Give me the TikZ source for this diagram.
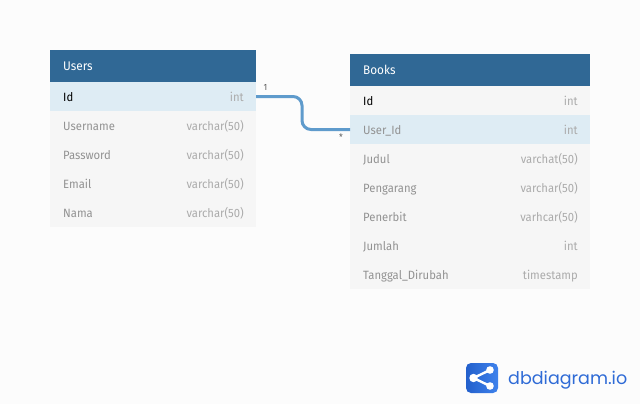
\documentclass[tikz,border=0pt]{standalone}
\usepackage{fontspec}
\setmainfont[FakeStretch=0.94]{Fira Sans}
\newfontfamily\logofont{Poppins}
\definecolor{hdr}{HTML}{306895}
\definecolor{rowbg}{HTML}{F6F6F6}
\definecolor{hl}{HTML}{DEECF4}
\definecolor{pagebg}{HTML}{FCFCFC}
\definecolor{link}{HTML}{5F9BCC}
\definecolor{fieldtxt}{HTML}{929292}
\definecolor{typetxt}{HTML}{ABABAB}
\definecolor{logoa}{HTML}{2360CC}
\definecolor{logob}{HTML}{3F82EC}
\definecolor{logotxt}{HTML}{2F6BD6}
\tikzset{
  x=1pt,y=-1pt,
  box/.style={anchor=north west,inner sep=0pt,outer sep=0pt,minimum height=#1},
  rowbox/.style={box=29pt,fill=rowbg},
  hlbox/.style={box=29pt,fill=hl},
  headbox/.style={box=32pt,fill=hdr},
  title/.style={anchor=base west,inner sep=0pt,text=white,font=\fontsize{12.5}{12}\selectfont},
  fname/.style={anchor=base west,inner sep=0pt,text=fieldtxt,font=\fontsize{12}{12}\selectfont},
  pk/.style={anchor=base west,inner sep=0pt,text=black,font=\fontsize{12}{12}\selectfont},
  ftype/.style={anchor=base east,inner sep=0pt,text=typetxt,font=\fontsize{12}{12}\selectfont},
  mark label/.style={inner sep=0pt,text=black!65,font=\fontsize{9}{9}\selectfont},
  rel/.style={draw=link,line width=3pt,rounded corners=9pt},
}
\newcommand{\tablerow}[7]{%
  % name, x, y, width, style, left text (style), right text
  \node[#5,minimum width=#4pt] (#1) at (#2,#3) {};
  \node[#6] (#1f) at (#2+13,#3+19) {#7};
}
\begin{document}
\begin{tikzpicture}
\useasboundingbox (0,0) rectangle (640,404);
\fill[pagebg] (0,0) rectangle (640,404);

% Users
\node[headbox,minimum width=206pt] (uh) at (50,50) {};
\node[title] (uht) at (63,70.5) {Users};
\tablerow{u1}{50}{82}{206}{hlbox}{pk}{Id}
\node[ftype] (u1t) at (244,101) {int};
\tablerow{u2}{50}{111}{206}{rowbox}{fname}{Username}
\node[ftype] (u2t) at (244,130) {varchar(50)};
\tablerow{u3}{50}{140}{206}{rowbox}{fname}{Password}
\node[ftype] (u3t) at (244,159) {varchar(50)};
\tablerow{u4}{50}{169}{206}{rowbox}{fname}{Email}
\node[ftype] (u4t) at (244,188) {varchar(50)};
\tablerow{u5}{50}{198}{206}{rowbox}{fname}{Nama}
\node[ftype] (u5t) at (244,217) {varchar(50)};

% Books
\node[headbox,minimum width=240pt] (bh) at (350,54) {};
\node[title] (bht) at (363,74.5) {Books};
\tablerow{b1}{350}{86}{240}{rowbox}{pk}{Id}
\node[ftype] (b1t) at (578,105) {int};
\tablerow{b2}{350}{115}{240}{hlbox}{fname}{User\_Id}
\node[ftype] (b2t) at (578,134) {int};
\tablerow{b3}{350}{144}{240}{rowbox}{fname}{Judul}
\node[ftype] (b3t) at (578,163) {varchat(50)};
\tablerow{b4}{350}{173}{240}{rowbox}{fname}{Pengarang}
\node[ftype] (b4t) at (578,192) {varchar(50)};
\tablerow{b5}{350}{202}{240}{rowbox}{fname}{Penerbit}
\node[ftype] (b5t) at (578,221) {varhcar(50)};
\tablerow{b6}{350}{231}{240}{rowbox}{fname}{Jumlah}
\node[ftype] (b6t) at (578,250) {int};
\tablerow{b7}{350}{260}{240}{rowbox}{fname}{Tanggal\_Dirubah}
\node[ftype] (b7t) at (578,279) {timestamp};

% Relation
\draw[rel] (u1.east) -- (302,96.5) -- (302,129.5) -- (b2.west);
\node[mark label] (one) at (265.5,87) {1};
\node[mark label] (many) at (341,137) {*};

% Logo
\shade[left color=logoa,right color=logob,rounded corners=5pt] (466,363) rectangle (498,393);
\draw[white,line width=2.4pt] (490,370) -- (473.5,378) -- (490,386);
\fill[white] (490,370) circle (3.8) (473.5,378) circle (4.2) (490,386) circle (3.8);
\node[anchor=base west,inner sep=0pt,text=logotxt,font=\logofont\fontsize{17.5}{18}\selectfont] (logo) at (508,384) {dbdiagram.io};
\end{tikzpicture}
\end{document}
